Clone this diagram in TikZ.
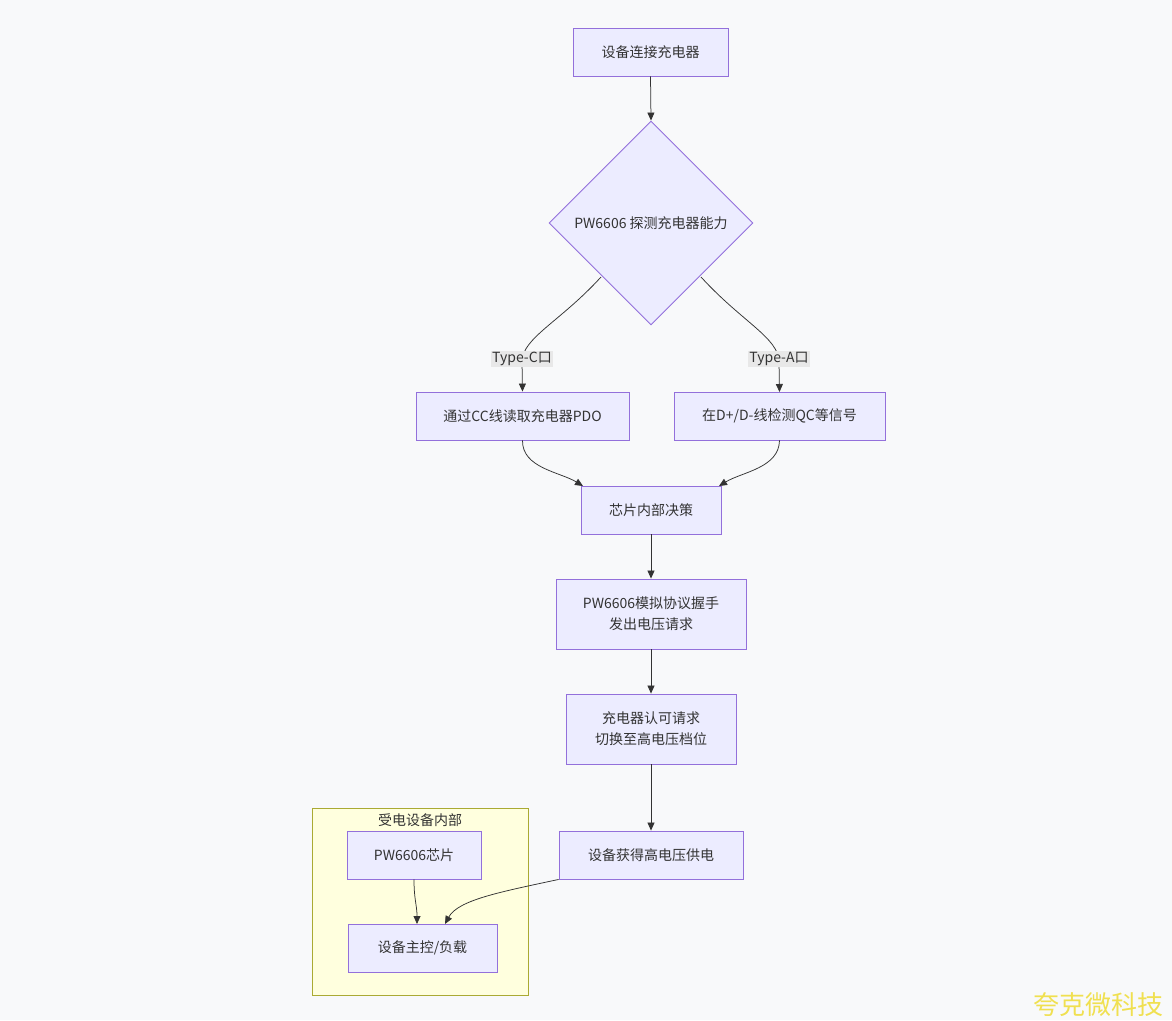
\documentclass[tikz,border=0pt]{standalone}
\usepackage{fontspec}
\setmainfont{Noto Sans CJK SC}
\usetikzlibrary{arrows.meta,shapes.geometric}
\definecolor{bgc}{HTML}{F8F9FA}
\definecolor{nfill}{HTML}{ECECFF}
\definecolor{nline}{HTML}{9370DB}
\definecolor{cfill}{HTML}{FFFFDE}
\definecolor{cline}{HTML}{AAAA33}
\definecolor{txt}{HTML}{333333}
\definecolor{lblbg}{HTML}{E8E8E8}
\definecolor{wm}{HTML}{F0E050}
\tikzset{
  box/.style={draw=nline, fill=nfill, line width=0.9pt, text=txt, font=\fontsize{14}{21}\selectfont, align=center, inner sep=0pt},
  dia/.style={diamond, draw=nline, fill=nfill, line width=0.9pt, text=txt, font=\fontsize{14}{21}\selectfont, minimum width=204pt, minimum height=204pt, inner sep=0pt, aspect=1},
  conn/.style={draw=txt, line width=0.75pt, -{Triangle[length=8pt,width=7pt]}},
  lbl/.style={fill=lblbg, text=txt, font=\fontsize{14}{17}\selectfont, inner sep=1.5pt}
}
\begin{document}
\begin{tikzpicture}[x=1pt,y=-1pt]
\fill[bgc] (0,0) rectangle (1172,1020);
\useasboundingbox (0,0) rectangle (1172,1020);
% cluster
\node[draw=cline, fill=cfill, line width=0.9pt, minimum width=216pt, minimum height=187pt, inner sep=0pt] (cl) at (420,901.5) {};
\node[text=txt, font=\fontsize{14}{17}\selectfont] (clt) at (420,820) {受电设备内部};
% nodes
\node[box, minimum width=155pt, minimum height=48pt] (A) at (650.5,52) {设备连接充电器};
\node[dia] (B) at (651,223) {PW6606 探测充电器能力};
\node[box, minimum width=213pt, minimum height=48pt] (C) at (522.5,416) {通过CC线读取充电器PDO};
\node[box, minimum width=211pt, minimum height=48pt] (D) at (779.5,416) {在D+/D-线检测QC等信号};
\node[box, minimum width=140pt, minimum height=48pt] (E) at (651,510) {芯片内部决策};
\node[box, minimum width=190pt, minimum height=70pt] (F) at (651,614) {PW6606模拟协议握手\\发出电压请求};
\node[box, minimum width=170pt, minimum height=70pt] (G) at (651,729) {充电器认可请求\\切换至高电压档位};
\node[box, minimum width=184pt, minimum height=48pt] (H) at (651,855) {设备获得高电压供电};
\node[box, minimum width=134pt, minimum height=48pt] (I) at (414,855) {PW6606芯片};
\node[box, minimum width=149pt, minimum height=48pt] (J) at (422.5,948) {设备主控/负载};
% coordinates
\coordinate (bl) at (601,277);
\coordinate (br) at (701,277);
\coordinate (ce) at (583,486);
\coordinate (de) at (719,486);
\coordinate (je) at (445,924);
% edges
\draw[conn] (A.south) -- (B.north);
\draw[conn] (bl) .. controls (560,322) and (522,338) .. (522,362) -- (C.north);
\draw[conn] (br) .. controls (742,322) and (779,338) .. (779,362) -- (779.5,392);
\node[lbl] (lc) at (522,359) {Type-C口};
\node[lbl] (la) at (779,359) {Type-A口};
\draw[conn] (C.south) .. controls (522,468) and (560,472) .. (ce);
\draw[conn] (D.south) .. controls (779,468) and (742,472) .. (de);
\draw[conn] (E.south) -- (F.north);
\draw[conn] (F.south) -- (G.north);
\draw[conn] (G.south) -- (H.north);
\draw[conn] (I.south) .. controls (414,900) and (417,905) .. (417,924);
\draw[conn] (H.south west) .. controls (500,892) and (458,900) .. (je);
% watermark
\node[text=wm, font=\fontsize{26}{29}\selectfont, anchor=east] (w) at (1167,1005) {夸克微科技};
\end{tikzpicture}
\end{document}
